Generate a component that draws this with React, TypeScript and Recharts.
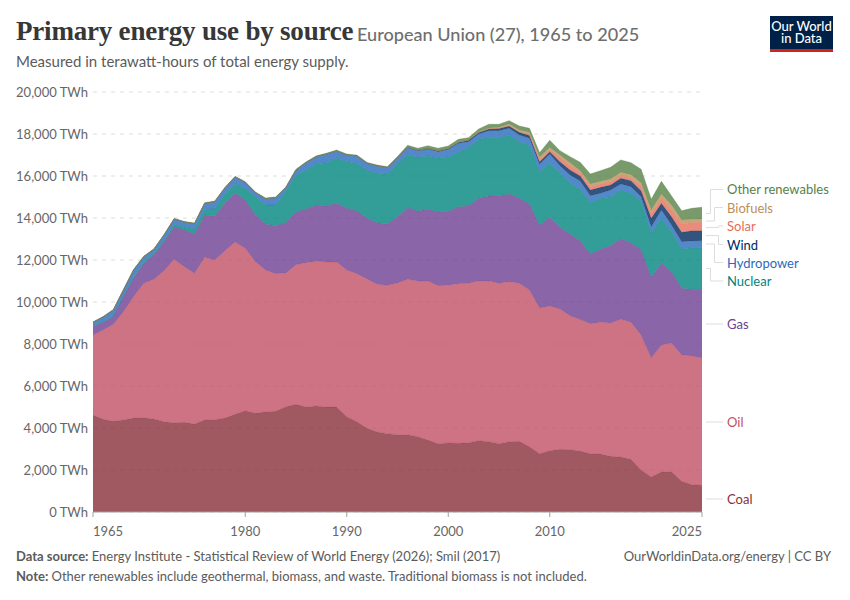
import { Area, AreaChart, CartesianGrid, XAxis, YAxis } from "recharts";

const years = [
  1965, 1966, 1967, 1968, 1969, 1970, 1971, 1972, 1973, 1974, 1975, 1976, 1977, 1978, 1979, 1980, 1981, 1982, 1983, 1984,
  1985, 1986, 1987, 1988, 1989, 1990, 1991, 1992, 1993, 1994, 1995, 1996, 1997, 1998, 1999, 2000, 2001, 2002, 2003, 2004,
  2005, 2006, 2007, 2008, 2009, 2010, 2011, 2012, 2013, 2014, 2015, 2016, 2017, 2018, 2019, 2020, 2021, 2022, 2023, 2024,
  2025,
];

const coal = [
  4619, 4413, 4318, 4381, 4477, 4493, 4429, 4302, 4255, 4270, 4191, 4381, 4397, 4477, 4651, 4826, 4699, 4778, 4794, 5016,
  5127, 5000, 5048, 5000, 5000, 4540, 4302, 3985, 3810, 3731, 3683, 3683, 3588, 3429, 3255, 3287, 3271, 3302, 3398, 3350,
  3255, 3350, 3366, 3112, 2779, 2922, 2985, 2969, 2906, 2779, 2763, 2652, 2620, 2509, 2001, 1668, 1906, 1922, 1461, 1303,
  1271,
];
const oil = [
  3811, 4256, 4620, 5160, 5779, 6397, 6652, 7192, 7778, 7414, 7176, 7747, 7604, 7969, 8207, 7731, 7223, 6747, 6557, 6366,
  6652, 6875, 6890, 6906, 6906, 6985, 7049, 7112, 7033, 7064, 7223, 7398, 7414, 7573, 7524, 7508, 7604, 7589, 7604, 7652,
  7636, 7620, 7525, 7461, 6937, 6889, 6683, 6382, 6255, 6191, 6271, 6350, 6557, 6525, 6427, 5665, 6044, 6126, 6015, 6125,
  6062,
];
const gas = [
  397, 365, 366, 715, 873, 953, 1159, 1380, 1556, 1746, 1872, 2016, 2111, 2254, 2318, 2301, 2222, 2190, 2285, 2397, 2508,
  2555, 2682, 2667, 2794, 2936, 2983, 2888, 2936, 2920, 3159, 3412, 3332, 3412, 3508, 3524, 3666, 3681, 3935, 4047, 4173,
  4174, 4046, 4079, 3936, 4222, 3889, 3888, 3745, 3317, 3475, 3682, 3840, 3793, 4050, 3843, 3893, 3398, 3176, 3177, 3272,
];
const nuclear = [
  32, 47, 47, 48, 79, 79, 79, 80, 111, 159, 223, 270, 318, 444, 444, 556, 873, 905, 984, 1508, 1761, 1856, 1952, 2063, 2158,
  2222, 2270, 2286, 2349, 2365, 2539, 2508, 2555, 2539, 2571, 2586, 2586, 2778, 2809, 2793, 2762, 2809, 2698, 2793, 2555,
  2571, 2571, 2412, 2460, 2444, 2428, 2333, 2317, 2349, 2348, 2095, 2142, 1904, 1873, 1984, 1984,
];
const hydropower = [
  175, 207, 270, 269, 317, 238, 190, 238, 254, 222, 269, 286, 349, 285, 333, 285, 190, 301, 349, 158, 238, 349, 349, 412,
  333, 317, 349, 333, 349, 318, 270, 365, 318, 333, 301, 365, 429, 285, 254, 317, 333, 317, 318, 349, 349, 444, 365, 397,
  397, 333, 239, 317, 286, 317, 191, 318, 397, 318, 349, 317, 333,
];
const wind = [
  0, 0, 0, 0, 0, 0, 0, 0, 0, 0, 0, 0, 0, 0, 0, 0, 0, 0, 0, 0, 0, 0, 0, 1, 1, 2, 3, 4, 5, 7, 10, 12, 15, 20, 30, 45, 55, 65,
  75, 85, 100, 110, 125, 135, 127, 111, 190, 238, 238, 270, 285, 238, 270, 286, 285, 396, 317, 397, 445, 492, 476,
];
const solar = [
  0, 0, 0, 0, 0, 0, 0, 0, 0, 0, 0, 0, 0, 0, 0, 0, 0, 0, 0, 0, 0, 0, 0, 0, 0, 0, 0, 0, 0, 0, 0, 0, 0, 0, 0, 0, 0, 0, 2, 3, 5,
  8, 15, 20, 60, 90, 206, 207, 158, 159, 159, 159, 127, 126, 223, 207, 238, 317, 396, 381, 397,
];
const biofuels = [
  0, 0, 0, 0, 0, 0, 0, 0, 0, 0, 0, 0, 0, 0, 0, 0, 0, 0, 0, 0, 0, 0, 0, 0, 0, 0, 0, 0, 0, 0, 2, 3, 4, 5, 7, 10, 15, 20, 30,
  35, 60, 90, 100, 130, 160, 111, 111, 143, 95, 127, 127, 127, 159, 159, 159, 190, 206, 238, 190, 159, 159,
];
const otherRenewables = [
  18, 18, 20, 20, 22, 22, 24, 23, 26, 26, 28, 28, 30, 30, 32, 32, 34, 33, 36, 36, 38, 38, 40, 40, 42, 44, 40, 40, 42, 40,
  38, 82, 91, 130, 123, 104, 120, 105, 131, 179, 137, 157, 188, 191, 209, 339, 206, 286, 397, 476, 508, 555, 587, 571, 635,
  508, 603, 429, 444, 524, 555,
];

const yTicks = [0, 2000, 4000, 6000, 8000, 10000, 12000, 14000, 16000, 18000, 20000];
const xTicks = [1965, 1980, 1990, 2000, 2010, 2025];

const seriesList = [
  { key: "Coal", values: coal, color: "#883039" },
  { key: "Oil", values: oil, color: "#C15065" },
  { key: "Gas", values: gas, color: "#6D3E91" },
  { key: "Nuclear", values: nuclear, color: "#00847E" },
  { key: "Hydropower", values: hydropower, color: "#286BBB" },
  { key: "Wind", values: wind, color: "#00295B" },
  { key: "Solar", values: solar, color: "#E56E5A" },
  { key: "Biofuels", values: biofuels, color: "#BC8E5A" },
  { key: "Other renewables", values: otherRenewables, color: "#578145" },
];

// end labels and their connector lines, placed beside the plot
const endLabels = [
  { name: "Other renewables", color: "#578145", y: 189, path: "M706 213.5H710.5V189.5H723" },
  { name: "Biofuels", color: "#BC8E5A", y: 207.5, path: "M706 221H714.5V207.5H723" },
  { name: "Solar", color: "#E56E5A", y: 226, path: "M706 227.5H718.5V226H723" },
  { name: "Wind", color: "#00295B", y: 244.5, path: "M706 235.5H718.5V244.5H723" },
  { name: "Hydropower", color: "#286BBB", y: 262.5, path: "M706 244H714.5V262.5H723" },
  { name: "Nuclear", color: "#00847E", y: 281, path: "M706 268.5H710.5V281H723" },
  { name: "Gas", color: "#6D3E91", y: 324, path: "M706 324H723" },
  { name: "Oil", color: "#C15065", y: 422, path: "M706 422H723" },
  { name: "Coal", color: "#883039", y: 499, path: "M706 499H723" },
];

const chartData = years.map((year, i) => {
  const row: Record<string, number> = { year };
  seriesList.forEach((s) => {
    row[s.key] = s.values[i];
  });
  return row;
});

const sans = "Lato, 'Noto Sans', sans-serif";
const grey = "#5b5b5b";

function XTick({ x, y, payload }: any) {
  const first = payload.value === xTicks[0];
  const last = payload.value === xTicks[xTicks.length - 1];
  return (
    <text
      x={x}
      y={y + 17}
      textAnchor={first ? "start" : last ? "end" : "middle"}
      fontFamily={sans}
      fontSize={13}
      fill="#666"
    >
      {payload.value}
    </text>
  );
}

export default function App() {
  return (
    <div style={{ position: "absolute", left: 0, top: 0, width: 850, height: 600, background: "#fff", fontFamily: sans }}>
      <AreaChart width={850} height={600} data={chartData} margin={{ top: 92, right: 148, bottom: 58, left: 0 }}>
        <CartesianGrid horizontal vertical={false} stroke="#dddddd" strokeDasharray="4 5" />
        <XAxis
          dataKey="year"
          type="number"
          domain={[1965, 2025]}
          ticks={xTicks}
          height={30}
          interval={0}
          stroke="#a1a1a1"
          tickSize={5}
          tick={<XTick />}
        />
        <YAxis
          type="number"
          domain={[0, 20000]}
          ticks={yTicks}
          width={93}
          axisLine={false}
          tickLine={false}
          tickSize={0}
          tickMargin={5}
          interval={0}
          tick={{ fontSize: 13, fontFamily: sans, fill: "#666" }}
          tickFormatter={(v: number) => `${v.toLocaleString("en-US")} TWh`}
        />
        {seriesList.map((s) => (
          <Area
            key={s.key}
            dataKey={s.key}
            stackId="energy"
            type="linear"
            stroke={s.color}
            strokeWidth={0.5}
            strokeOpacity={0.7}
            fill={s.color}
            fillOpacity={0.8}
            dot={false}
            activeDot={false}
            isAnimationActive={false}
          />
        ))}
      </AreaChart>

      <svg width={850} height={600} style={{ position: "absolute", left: 0, top: 0, pointerEvents: "none" }}>
        {endLabels.map((l) => (
          <g key={l.name}>
            <path d={l.path} fill="none" stroke="#dddddd" strokeWidth={1} />
            <text x={727} y={l.y + 5} fontFamily={sans} fontSize={13} fill={l.color}>
              {l.name}
            </text>
          </g>
        ))}
      </svg>

      <div
        style={{
          position: "absolute",
          left: 16,
          top: 15,
          whiteSpace: "nowrap",
          fontFamily: "'Liberation Serif', serif",
          fontWeight: 700,
          fontSize: 27,
          letterSpacing: -0.2,
          lineHeight: "32px",
          color: "#373737",
        }}
      >
        Primary energy use by source
      </div>
      <div
        style={{
          position: "absolute",
          left: 357,
          top: 22,
          whiteSpace: "nowrap",
          fontSize: 18.1,
          lineHeight: "24px",
          fontWeight: 500,
          color: "#6e6e6e",
        }}
      >
        European Union (27), 1965 to 2025
      </div>
      <div style={{ position: "absolute", left: 16, top: 52, whiteSpace: "nowrap", fontSize: 15, lineHeight: "18px", color: grey }}>
        Measured in terawatt-hours of total energy supply.
      </div>

      <div
        style={{
          position: "absolute",
          left: 770,
          top: 16,
          width: 63,
          height: 36,
          boxSizing: "border-box",
          background: "#002147",
          borderBottom: "3px solid #ce261e",
          color: "#fff",
          fontWeight: 500,
          fontSize: 13,
          lineHeight: "12px",
          textAlign: "center",
          paddingTop: 4,
          paddingLeft: 1,
          paddingRight: 1,
        }}
      >
        Our World in Data
      </div>

      <div style={{ position: "absolute", left: 16, top: 548, whiteSpace: "nowrap", fontSize: 13, lineHeight: "16px", color: grey }}>
        <b>Data source:</b> Energy Institute - Statistical Review of World Energy (2026); Smil (2017)
      </div>
      <div style={{ position: "absolute", right: 19, top: 548, whiteSpace: "nowrap", fontSize: 13, lineHeight: "16px", color: grey }}>
        OurWorldinData.org/energy | CC BY
      </div>
      <div style={{ position: "absolute", left: 16, top: 568, whiteSpace: "nowrap", fontSize: 13, lineHeight: "16px", color: grey }}>
        <b>Note:</b> Other renewables include geothermal, biomass, and waste. Traditional biomass is not included.
      </div>
    </div>
  );
}
